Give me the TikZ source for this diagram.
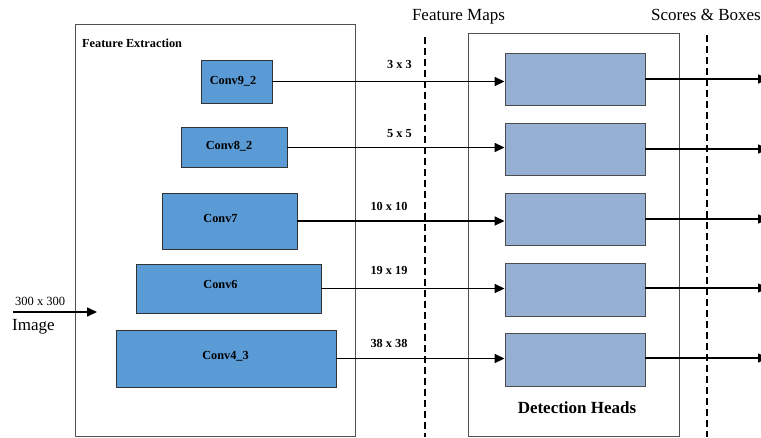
\documentclass[tikz,border=0pt]{standalone}
\usepackage{fontspec}
\setmainfont{Liberation Serif}
\usetikzlibrary{arrows.meta}
\definecolor{convblue}{HTML}{5B9BD5}
\definecolor{headblue}{HTML}{95B0D2}
\definecolor{frame}{HTML}{505050}
\begin{document}
\begin{tikzpicture}[x=1pt,y=-1pt,
  conv/.style={draw=black!80,line width=0.9pt,fill=convblue,inner sep=0pt},
  convtext/.style={font=\fontsize{12.3}{14}\selectfont\bfseries,inner sep=0pt},
  head/.style={draw=black!70,line width=0.9pt,fill=headblue,inner sep=0pt},
  group/.style={draw=frame,line width=0.9pt},
  flow/.style={line width=1.6pt,-{Triangle[length=10pt,width=9pt]}},
  sep/.style={line width=2.4pt,dash pattern=on 7pt off 4pt},
  small/.style={font=\fontsize{12.3}{14}\selectfont\bfseries,anchor=base},
  big/.style={font=\fontsize{17}{20}\selectfont,anchor=base}]
\useasboundingbox (0,0) rectangle (761,437);

% group frames
\draw[group] (75,24.5) rectangle (355,436);
\draw[group] (468,33.5) rectangle (679,436);

% separators between stages
\draw[sep] (425,37) -- (425,437);
\draw[sep] (707,35) -- (707,437);

% feature extraction layers
\node[conv,minimum width=71pt,minimum height=43pt] (c9) at (236.5,81.5) {};
\node[conv,minimum width=106pt,minimum height=40pt] (c8) at (234,147.5) {};
\node[conv,minimum width=135pt,minimum height=56pt] (c7) at (229.5,221) {};
\node[conv,minimum width=185pt,minimum height=49pt] (c6) at (228.5,288.5) {};
\node[conv,minimum width=220pt,minimum height=57pt] (c4) at (226,358.5) {};

% layer names
\node[convtext] (t9) at (233,81) {Conv9\_2};
\node[convtext] (t8) at (229,146) {Conv8\_2};
\node[convtext] (t7) at (220.5,218.5) {Conv7};
\node[convtext] (t6) at (220.5,284.5) {Conv6};
\node[convtext] (t4) at (225.5,356.5) {Conv4\_3};

% detection heads
\node[head,minimum width=140pt,minimum height=52pt] (h1) at (575,79) {};
\node[head,minimum width=140pt,minimum height=52pt] (h2) at (575,149) {};
\node[head,minimum width=140pt,minimum height=52pt] (h3) at (575,219) {};
\node[head,minimum width=140pt,minimum height=53pt] (h4) at (575,289.5) {};
\node[head,minimum width=140pt,minimum height=53pt] (h5) at (575,359.5) {};

% outputs past the right edge
\coordinate (o1) at (768,79);
\coordinate (o2) at (768,149);
\coordinate (o3) at (768,219);
\coordinate (o4) at (768,288);
\coordinate (o5) at (768,358);

% feature maps into heads
\draw[flow] (c9.east) -- (c9.east -| h1.west);
\draw[flow] (c8.east) -- (c8.east -| h2.west);
\draw[flow] (c7.east) -- (c7.east -| h3.west);
\draw[flow] (c6.east) -- (c6.east -| h4.west);
\draw[flow] (c4.east) -- (c4.east -| h5.west);

% scores and boxes out of heads
\draw[flow] (h1.east) -- (o1);
\draw[flow] (h2.east) -- (o2);
\draw[flow] (h3.east) -- (o3);
\draw[flow] (h4.east) ++(0,-1.5) -- (o4);
\draw[flow] (h5.east) ++(0,-1.5) -- (o5);

% input
\coordinate (in0) at (13,312);
\coordinate (in1) at (97,312);
\draw[flow] (in0) -- (in1);
\node[font=\fontsize{12.5}{14}\selectfont,anchor=base west,inner sep=0pt] (res) at (15,305) {300 x 300};
\node[big,anchor=base west,inner sep=0pt] (img) at (12,330.5) {Image};

% titles
\node[small,anchor=base west,inner sep=0pt] (fe) at (82,47.7) {Feature Extraction};
\node[big] (fm) at (458.5,20) {Feature Maps};
\node[big] (sb) at (706,20) {Scores \& Boxes};
\node[big,font=\fontsize{17}{20}\selectfont\bfseries] (dh) at (577,413) {Detection Heads};

% feature map sizes
\node[small] (s1) at (399.5,68.3) {3 x 3};
\node[small] (s2) at (399.5,137.7) {5 x 5};
\node[small] (s3) at (389,210.7) {10 x 10};
\node[small] (s4) at (389,274) {19 x 19};
\node[small] (s5) at (389,347.3) {38 x 38};
\end{tikzpicture}
\end{document}
